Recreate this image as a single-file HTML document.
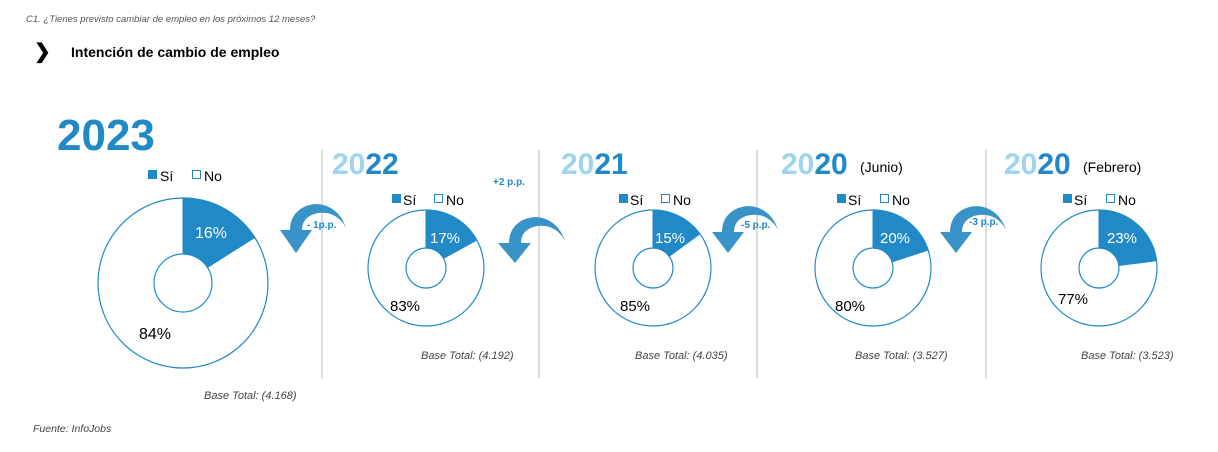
<!DOCTYPE html>
<html><head><meta charset="utf-8"><style>
body{margin:0;background:#fff;}
svg{display:block;font-family:"Liberation Sans",sans-serif;}
</style></head><body>
<svg width="1218" height="452" viewBox="0 0 1218 452">
<text x="26" y="22" font-size="9.5" font-style="italic" fill="#555">C1. ¿Tienes previsto cambiar de empleo en los próximos 12 meses?</text>
<text x="34" y="58" font-size="20" font-weight="bold" fill="#000">❯</text>
<text x="71" y="57" font-size="14" font-weight="bold" fill="#000">Intención de cambio de empleo</text>

<text x="57" y="150" font-size="44" font-weight="bold" fill="#2089c6">2023</text>
<text x="332" y="174" font-size="30" font-weight="bold"><tspan fill="#9fd3ee">20</tspan><tspan fill="#2089c6">22</tspan></text>
<text x="561" y="174" font-size="30" font-weight="bold"><tspan fill="#9fd3ee">20</tspan><tspan fill="#2089c6">21</tspan></text>
<text x="781" y="174" font-size="30" font-weight="bold"><tspan fill="#9fd3ee">20</tspan><tspan fill="#2089c6">20</tspan></text>
<text x="860" y="172" font-size="14" fill="#000">(Junio)</text>
<text x="1004" y="174" font-size="30" font-weight="bold"><tspan fill="#9fd3ee">20</tspan><tspan fill="#2089c6">20</tspan></text>
<text x="1083" y="172" font-size="14" fill="#000">(Febrero)</text>

<g stroke="#bbb" stroke-width="1">
<line x1="322" y1="150" x2="322" y2="378"/><line x1="539" y1="150" x2="539" y2="378"/>
<line x1="757" y1="150" x2="757" y2="378"/><line x1="986" y1="150" x2="986" y2="378"/>
</g>

<g font-size="14" fill="#000">
<rect x="148" y="170" width="9" height="9" fill="#2089c6"/><text x="160" y="181">Sí</text>
<rect x="192.5" y="170.5" width="8" height="8" fill="#fff" stroke="#2089c6"/><text x="204" y="181">No</text>
<rect x="392" y="194" width="9" height="9" fill="#2089c6"/><text x="403" y="205">Sí</text>
<rect x="434.5" y="194.5" width="8" height="8" fill="#fff" stroke="#2089c6"/><text x="446" y="205">No</text>
<rect x="619" y="194" width="9" height="9" fill="#2089c6"/><text x="630" y="205">Sí</text>
<rect x="661.5" y="194.5" width="8" height="8" fill="#fff" stroke="#2089c6"/><text x="673" y="205">No</text>
<rect x="837" y="194" width="9" height="9" fill="#2089c6"/><text x="848" y="205">Sí</text>
<rect x="880.5" y="194.5" width="8" height="8" fill="#fff" stroke="#2089c6"/><text x="892" y="205">No</text>
<rect x="1063" y="194" width="9" height="9" fill="#2089c6"/><text x="1074" y="205">Sí</text>
<rect x="1106.5" y="194.5" width="8" height="8" fill="#fff" stroke="#2089c6"/><text x="1118" y="205">No</text>
</g>

<g stroke="#2089c6" stroke-width="1.2" fill="#fff">
<circle cx="183" cy="283" r="85"/><circle cx="183" cy="283" r="29"/>
<circle cx="426" cy="268" r="58"/><circle cx="426" cy="268" r="20"/>
<circle cx="653" cy="268" r="58"/><circle cx="653" cy="268" r="20"/>
<circle cx="873" cy="268" r="58"/><circle cx="873" cy="268" r="20"/>
<circle cx="1099" cy="268" r="58"/><circle cx="1099" cy="268" r="20"/>
</g>
<g fill="#2089c6" stroke="#2089c6" stroke-width="1">
<path d="M183,198 A85,85 0 0 1 254.77,237.46 L207.48,267.46 A29,29 0 0 0 183,254 Z"/>
<path d="M426,210 A58,58 0 0 1 476.83,240.06 L443.53,258.36 A20,20 0 0 0 426,248 Z"/>
<path d="M653,210 A58,58 0 0 1 699.92,233.91 L669.18,256.24 A20,20 0 0 0 653,248 Z"/>
<path d="M873,210 A58,58 0 0 1 928.16,250.08 L892.02,261.82 A20,20 0 0 0 873,248 Z"/>
<path d="M1099,210 A58,58 0 0 1 1156.54,260.73 L1118.84,265.49 A20,20 0 0 0 1099,248 Z"/>
</g>
<g text-anchor="middle" font-size="15">
<text x="211" y="238" fill="#fff" font-size="16">16%</text><text x="155" y="339" font-size="16">84%</text>
<text x="445" y="243" fill="#fff">17%</text><text x="405" y="311">83%</text>
<text x="670" y="243" fill="#fff">15%</text><text x="635" y="311">85%</text>
<text x="895" y="243" fill="#fff">20%</text><text x="850" y="311">80%</text>
<text x="1122" y="243" fill="#fff">23%</text><text x="1073" y="304">77%</text>
</g>

<g fill="#3a93c8">
<g transform="translate(280,200)">
<path d="M66,28 C60,8 40,-2 22,8 C14,13 10,20 10,30 L22,30 C22,22 26,17 34,14 C48,10 60,16 66,28 Z"/>
<polygon points="0,30 32,30 16,53"/>
</g>
<g transform="translate(498,213)">
<path d="M67,28 C61,8 41,-2 23,8 C15,13 11,20 11,30 L23,30 C23,22 27,17 35,14 C49,10 61,16 67,28 Z"/>
<polygon points="0,30 33,30 17,50"/>
</g>
<g transform="translate(712,202)">
<path d="M66,28 C60,8 40,-2 22,8 C14,13 10,20 10,30 L22,30 C22,22 26,17 34,14 C48,10 60,16 66,28 Z"/>
<polygon points="0,30 32,30 16,51"/>
</g>
<g transform="translate(940,202)">
<path d="M66,28 C60,8 40,-2 22,8 C14,13 10,20 10,30 L22,30 C22,22 26,17 34,14 C48,10 60,16 66,28 Z"/>
<polygon points="0,30 32,30 16,51"/>
</g>
</g>
<g font-size="10" font-weight="bold" fill="#2089c6">
<text x="307" y="228">- 1p.p.</text>
<text x="493" y="185">+2 p.p.</text>
<text x="741" y="228">-5 p.p.</text>
<text x="969" y="225">-3 p.p.</text>
</g>

<g font-size="11" font-style="italic" fill="#444">
<text x="204" y="399">Base Total: (4.168)</text>
<text x="421" y="359">Base Total: (4.192)</text>
<text x="635" y="359">Base Total: (4.035)</text>
<text x="855" y="359">Base Total: (3.527)</text>
<text x="1081" y="359">Base Total: (3.523)</text>
<text x="33" y="432" font-size="10.5">Fuente: InfoJobs</text>
</g>
</svg>
</body></html>
